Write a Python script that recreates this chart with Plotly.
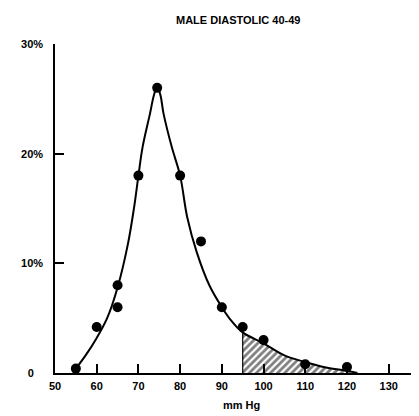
import plotly.graph_objects as go

# Observed data points (mm Hg, percent)
pt_x = [55, 60, 65, 65, 70, 74.5, 80, 85, 90, 95, 100, 110, 120]
pt_y = [0.4, 4.2, 8.0, 6.0, 18.0, 26.0, 18.0, 12.0, 6.0, 4.2, 3.0, 0.8, 0.55]

# Fitted curve
curve_x = [55, 57.5, 60, 62.5, 65, 67.5, 69, 70, 71, 72.8, 73.7, 74.5, 75.3, 76, 78, 80, 81.7, 84, 87, 90, 92, 95, 100, 105, 110, 115, 120, 122.5]
curve_y = [0.4, 1.7, 3.2, 5.0, 7.8, 11.8, 15.2, 18.0, 20.6, 23.7, 25.3, 26.1, 25.3, 23.7, 20.6, 18.0, 14.2, 11.0, 8.0, 6.0, 4.9, 3.7, 2.7, 1.6, 1.0, 0.5, 0.2, 0.0]

shade_from = 95

x_ticks = [50, 60, 70, 80, 90, 100, 110, 120, 130]
y_ticks = [0, 10, 20, 30]
y_ticktext = ["0\u00a0\u00a0\u00a0", "10%", "20%", "30%"]

title_text = "MALE DIASTOLIC 40-49"
x_label = "mm Hg"

FAM = "Liberation Sans, Arial, sans-serif"
BFONT = dict(family=FAM, size=11, color="black", weight="bold")

# page body has an 8px default margin; compensate so the plot lands where the reference has it
OFF = 8
PX_PER_UNIT = 4.171  # horizontal scale measured on the reference

fig = go.Figure()

sx = [x for x in curve_x if x >= shade_from]
sy = [y for x, y in zip(curve_x, curve_y) if x >= shade_from]

fig.add_trace(go.Scatter(
    x=sx, y=sy, mode="lines", line=dict(width=0, shape="spline", smoothing=1.0),
    fill="tozeroy", fillcolor="white",
    fillpattern=dict(shape="/", fgcolor="black", bgcolor="white", size=5, solidity=0.55),
    hoverinfo="skip", showlegend=False,
))
fig.add_trace(go.Scatter(
    x=[sx[0], sx[0]], y=[0, sy[0]], mode="lines",
    line=dict(color="black", width=1.2), showlegend=False, hoverinfo="skip",
))
fig.add_trace(go.Scatter(
    x=curve_x, y=curve_y, mode="lines",
    line=dict(color="black", width=2, shape="spline", smoothing=1.0),
    showlegend=False, cliponaxis=False,
))
fig.add_trace(go.Scatter(
    x=pt_x, y=pt_y, mode="markers",
    marker=dict(color="black", size=10),
    showlegend=False, cliponaxis=False,
))

top, bot, left = 44 - OFF, 43, 55 - OFF
W, H = 419, 416 - OFF
plot_h = H - top - bot
plot_w = W - left
x_max = 50 + plot_w / PX_PER_UNIT

fig.update_layout(
    width=W, height=H,
    margin=dict(l=left, r=0, t=top, b=bot, pad=0, autoexpand=False),
    paper_bgcolor="white", plot_bgcolor="white",
    font=dict(family=FAM, size=11, color="black"),
    xaxis=dict(
        range=[50, x_max], tickvals=x_ticks, ticks="inside", ticklen=9,
        tickwidth=1.5, tickcolor="black", showline=True, linecolor="black",
        linewidth=1.5, showgrid=False, zeroline=False,
        tickfont=BFONT, ticklabelstandoff=2, automargin=False,
    ),
    yaxis=dict(
        range=[0, 30], tickvals=y_ticks, ticktext=y_ticktext, ticks="inside",
        ticklen=9, tickwidth=1.5, tickcolor="black", showline=True,
        linecolor="black", linewidth=1.5, showgrid=False, zeroline=False,
        tickfont=BFONT, ticklabelstandoff=8, automargin=False,
    ),
    annotations=[
        dict(text=title_text, x=(238.5 - 55) / 364, y=1 + (44 - 20) / plot_h, xref="paper", yref="paper",
             yanchor="middle", showarrow=False, font=BFONT),
        dict(text=x_label, x=(241 - 55) / 364 * 364 / plot_w, y=-(405 - 373) / plot_h, xref="paper", yref="paper",
             yanchor="middle", showarrow=False, font=BFONT),
    ],
)
fig.layout.annotations[0].x = (238.5 - 55) / plot_w

fig.write_html("out.html")
